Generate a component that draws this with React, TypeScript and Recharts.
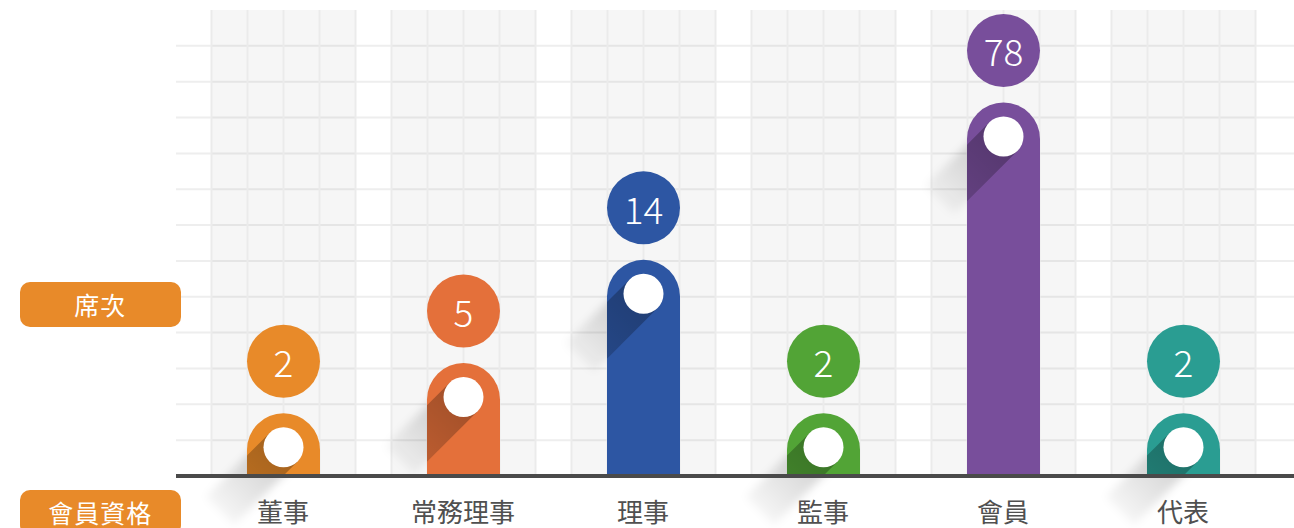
import React from "react";
import { BarChart, Bar, XAxis, YAxis, CartesianGrid } from "recharts";

const CATEGORIES = ["董事", "常務理事", "理事", "監事", "會員", "代表"];
const SEATS = [2, 5, 14, 2, 78, 2];
// visual bar height in grid units (not proportional to seats)
const BAR_LEVELS = [1.75, 3.15, 6.03, 1.75, 10.42, 1.75];
const COLORS = ["#E88A29", "#E4703A", "#2D56A3", "#52A436", "#784E9B", "#2A9D92"];
const Y_TICKS = [0, 1, 2, 3, 4, 5, 6, 7, 8, 9, 10, 11, 12];

const FONT = '"Noto Sans CJK TC", "Noto Sans", sans-serif';

const data = CATEGORIES.map((name, i) => ({
  name,
  seats: SEATS[i],
  level: BAR_LEVELS[i],
  color: COLORS[i],
}));

function Panel(props: any) {
  const { x, y, width, height } = props;
  const cx = x + width / 2;
  const cols = [-72, -36, 0, 36, 72];
  return (
    <g>
      <rect x={cx - 72} y={y} width={144} height={height} fill="rgba(0,0,0,0.035)" />
      {cols.map((dx) => (
        <line key={dx} x1={cx + dx} x2={cx + dx} y1={y} y2={y + height} stroke="#ebebeb" strokeWidth={2} />
      ))}
    </g>
  );
}

function Pin(props: any) {
  const { x, y, width, height, payload, index } = props;
  const r = width / 2;
  const cx = x + r;
  const bottom = y + height;
  const barPath = `M${x},${bottom} L${x},${y + r} A${r},${r} 0 0 1 ${x + width},${y + r} L${x + width},${bottom} Z`;
  const dotY = y + 34;
  const dotR = 20;
  const s = Math.SQRT1_2;
  const L = 90;
  const p1 = [cx + dotR * s, dotY + dotR * s];
  const p2 = [cx - dotR * s, dotY - dotR * s];
  const band = `M${p1[0]},${p1[1]} L${p2[0]},${p2[1]} L${p2[0] - L * s},${p2[1] + L * s} L${p1[0] - L * s},${p1[1] + L * s} Z`;
  const clipId = `pinclip-${index}`;
  const labelY = y - 52;
  return (
    <g>
      <defs>
        <clipPath id={clipId}>
          <path d={barPath} />
        </clipPath>
      </defs>
      <path d={band} fill="url(#outerShadow)" filter="url(#softBlur)" />
      <path d={barPath} fill={payload.color} />
      <path d={band} fill="url(#innerShadow)" clipPath={`url(#${clipId})`} />
      <circle cx={cx} cy={dotY} r={dotR} fill="#fff" />
      <circle cx={cx} cy={labelY} r={36.5} fill={payload.color} />
      <text
        x={cx}
        y={labelY}
        textAnchor="middle"
        dominantBaseline="central"
        fill="#fff"
        fontSize={37}
        fontFamily={FONT}
        fontWeight={300}
      >
        {payload.seats}
      </text>
    </g>
  );
}

function CategoryTick(props: any) {
  const { x, y, payload } = props;
  return (
    <text x={x} y={y + 26} textAnchor="middle" dominantBaseline="central" fill="#505050" fontSize={26} fontFamily={FONT}>
      {payload.value}
    </text>
  );
}

const tagStyle: React.CSSProperties = {
  position: "absolute",
  left: 19.5,
  width: 161.5,
  height: 44.5,
  borderRadius: 10,
  background: "#E88A29",
  color: "#fff",
  fontFamily: FONT,
  fontSize: 25,
  display: "flex",
  alignItems: "center",
  justifyContent: "center",
  letterSpacing: 1,
};

export default function App() {
  return (
    <div style={{ position: "absolute", left: 0, top: 0, width: 1294, height: 528, overflow: "hidden", background: "#fff" }}>
      <BarChart
        width={1294}
        height={528}
        data={data}
        margin={{ top: 10, right: 0, left: 176, bottom: 0 }}
        barCategoryGap={0}
      >
        <defs>
          <linearGradient id="innerShadow" x1="1" y1="0" x2="0" y2="1">
            <stop offset="0%" stopColor="#000" stopOpacity={0.32} />
            <stop offset="100%" stopColor="#000" stopOpacity={0.12} />
          </linearGradient>
          <linearGradient id="outerShadow" x1="1" y1="0" x2="0" y2="1">
            <stop offset="0%" stopColor="#000" stopOpacity={0.24} />
            <stop offset="100%" stopColor="#000" stopOpacity={0} />
          </linearGradient>
          <filter id="softBlur" x="-50%" y="-50%" width="200%" height="200%">
            <feGaussianBlur stdDeviation={4} />
          </filter>
        </defs>
        <CartesianGrid vertical={false} stroke="#eeeeee" strokeWidth={2} horizontalValues={Y_TICKS} />
        <XAxis
          dataKey="name"
          height={52}
          padding={{ left: 17, right: 21 }}
          tickLine={false}
          axisLine={{ stroke: "#4a4a4a", strokeWidth: 4 }}
          tick={<CategoryTick />}
          interval={0}
        />
        <YAxis hide domain={[0, 13]} ticks={Y_TICKS} />
        <Bar
          dataKey="level"
          barSize={73}
          isAnimationActive={false}
          background={<Panel />}
          shape={<Pin />}
        />
      </BarChart>
      <div style={{ ...tagStyle, top: 282 }}>席次</div>
      <div style={{ ...tagStyle, top: 490 }}>會員資格</div>
    </div>
  );
}
